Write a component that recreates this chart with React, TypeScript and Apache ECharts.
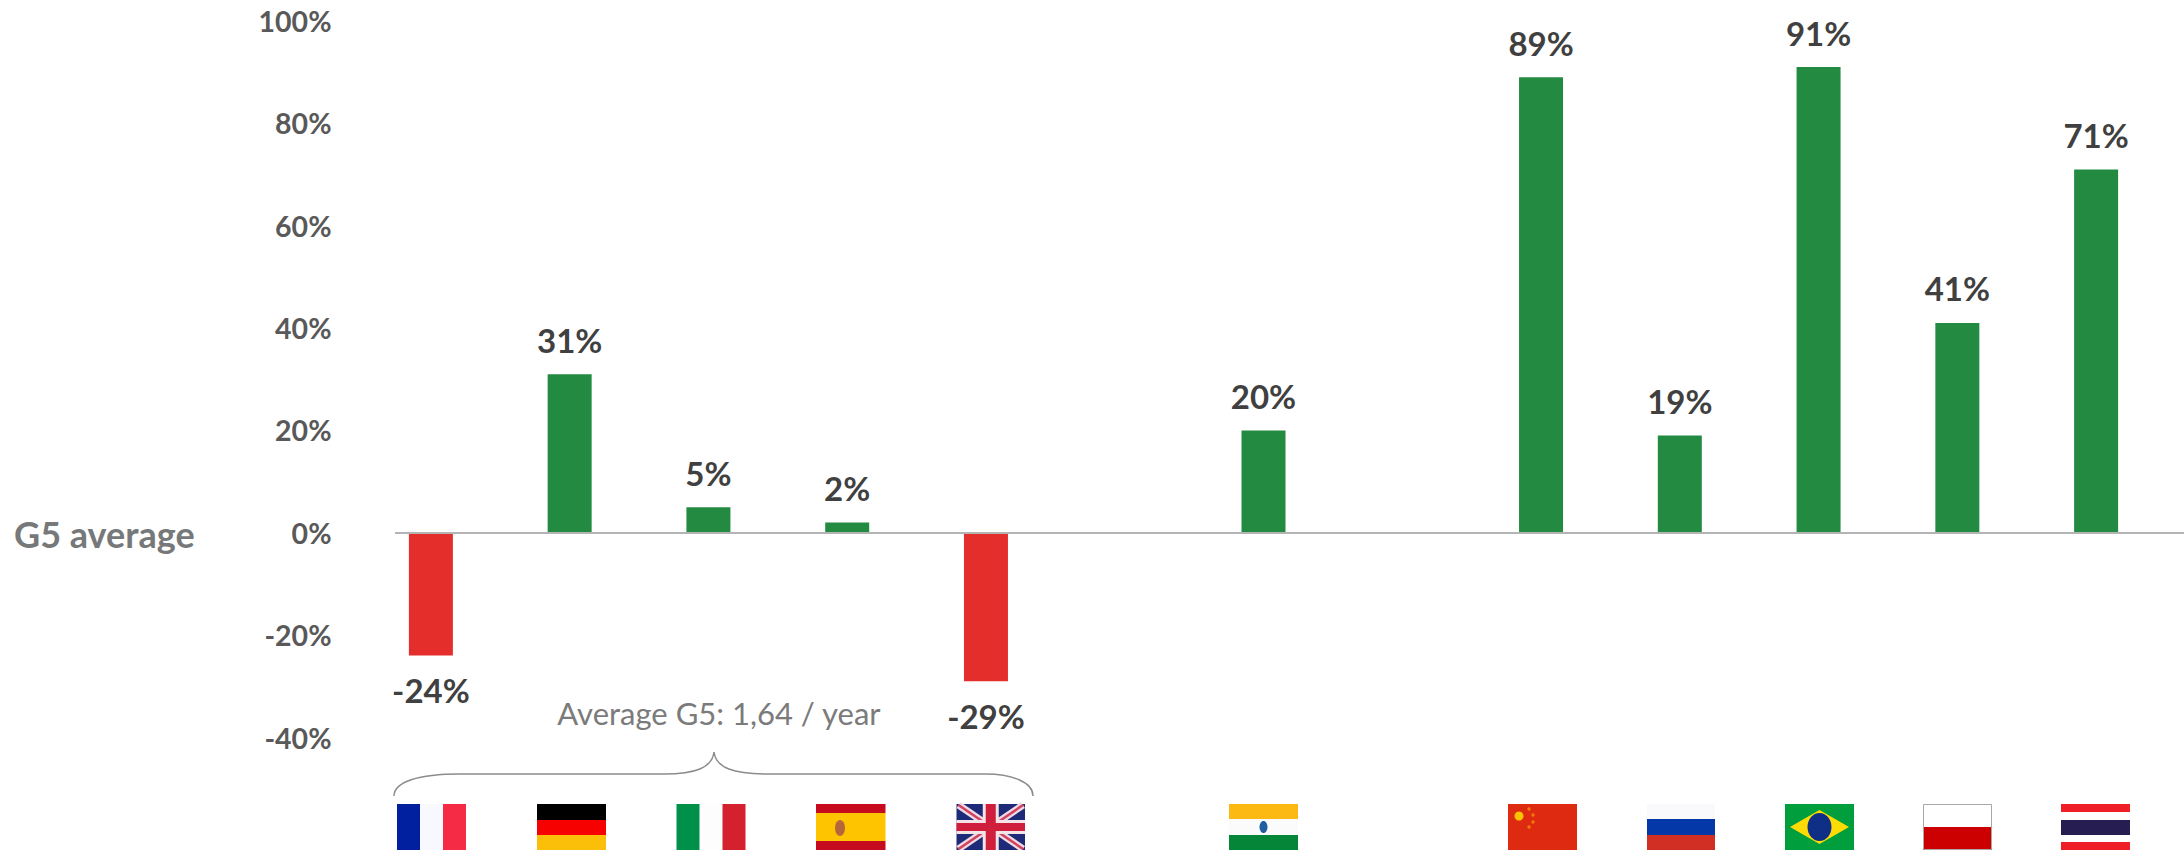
import React, { useEffect, useRef } from "react";
import * as echarts from "echarts";

const categories = ["France", "Germany", "Italy", "Spain", "UK", "gap-1", "India", "gap-2", "China", "Russia", "Brazil", "Poland", "Thailand"];
const growth = [-24, 31, 5, 2, -29, null, 20, null, 89, 19, 91, 41, 71];
const yTicks = [-40, -20, 0, 20, 40, 60, 80, 100];
const sideLabel = "G5 average";
const averageNote = "Average G5: 1,64 / year";

const FONT = "Lato, 'Open Sans', sans-serif";
const GREEN = "#238b41";
const RED = "#e32e2c";

echarts.graphic.registerShape(
  "g5brace",
  echarts.graphic.extendPath(
    "M394 796 C394 782 418 774 460 774 L664 774 C695 774 712 768 714 752 C716 768 733 774 770 774 L985 774 C1012 774 1033 782 1033 796",
    {}
  )
);

const FLAG_TOP = 804;
const FLAG_H = 46;

const r = (x: number, y: number, w: number, h: number, fill: string) => ({
  type: "rect", shape: { x, y, width: w, height: h }, style: { fill }, silent: true,
});
const hBands = (x: number, w: number, bands: [number, string][]) => {
  let y = FLAG_TOP;
  return bands.map(([h, c]) => { const e = r(x, y, w, h, c); y += h; return e; });
};
const vBands = (x: number, cols: string[], w: number) =>
  cols.map((c, i) => r(x + (i * w) / 3, FLAG_TOP, w / 3 + (i < 2 ? 0.5 : 0), FLAG_H, c));
const poly = (points: number[][], fill: string) => ({
  type: "polygon", shape: { points }, style: { fill }, silent: true,
});
const dot = (cx: number, cy: number, rad: number, fill: string) => ({
  type: "circle", shape: { cx, cy, r: rad }, style: { fill }, silent: true,
});
const bar = (x1: number, y1: number, x2: number, y2: number, stroke: string, lineWidth: number) => ({
  type: "line", shape: { x1, y1, x2, y2 }, style: { stroke, lineWidth }, silent: true,
});

function flags() {
  const T = FLAG_TOP;
  const out: any[] = [];
  out.push(...vBands(397, ["#0020a0", "#f8f8ff", "#f52a45"], 69));
  out.push(...hBands(537, 69, [[16, "#000000"], [15, "#f60000"], [15, "#fbbf0a"]]));
  out.push(...vBands(676.5, ["#00904a", "#fcfdfc", "#d4212e"], 69));
  out.push(...hBands(816, 69.5, [[9, "#c60b1e"], [28, "#fec400"], [9, "#c60b1e"]]));
  out.push({ type: "ellipse", shape: { cx: 840, cy: T + 24, rx: 5, ry: 8 }, style: { fill: "#b5673a" }, silent: true });
  // UK
  const ux = 956.5, uw = 68.5, B = T + FLAG_H;
  out.push(r(ux, T, uw, FLAG_H, "#1d2a78"));
  out.push(bar(ux + 2, T + 1, ux + uw - 2, B - 1, "#efd9e2", 7));
  out.push(bar(ux + uw - 2, T + 1, ux + 2, B - 1, "#efd9e2", 7));
  out.push(bar(ux + 2, T + 1, ux + uw - 2, B - 1, "#d2415f", 2.5));
  out.push(bar(ux + uw - 2, T + 1, ux + 2, B - 1, "#d2415f", 2.5));
  out.push(r(ux + uw / 2 - 8, T, 16, FLAG_H, "#f3e4e8"));
  out.push(r(ux, T + 16, uw, 14, "#f3e4e8"));
  out.push(r(ux + uw / 2 - 5, T, 10, FLAG_H, "#cf1f3c"));
  out.push(r(ux, T + 19, uw, 8, "#cf1f3c"));
  // India
  out.push(...hBands(1229, 69, [[15, "#fdb913"], [16, "#fbfbfb"], [15, "#058538"]]));
  out.push({ type: "ellipse", shape: { cx: 1263.5, cy: T + 23, rx: 4, ry: 6 }, style: { fill: "#1f5fa0" }, silent: true });
  // China
  out.push(r(1508, T, 69, FLAG_H, "#de2a10"));
  out.push(dot(1519, T + 12, 4.5, "#f7c300"));
  [[1529, T + 5], [1533, T + 11], [1533, T + 18], [1529, T + 23]].forEach(([x, y]) => out.push(dot(x, y, 1.7, "#ec7a0a")));
  // Russia
  out.push(...hBands(1647, 68, [[15, "#fafafd"], [16, "#0437a8"], [15, "#d22f24"]]));
  // Brazil
  const bx = 1785, bw = 69, bc = bx + bw / 2, my = T + 23;
  out.push(r(bx, T, bw, FLAG_H, "#009e3d"));
  out.push(poly([[bc, T + 6], [bx + 64, my], [bc, B - 6], [bx + 5, my]], "#fcdc04"));
  out.push({ type: "ellipse", shape: { cx: bc, cy: my, rx: 12, ry: 14 }, style: { fill: "#0f2f86" }, silent: true });
  // Poland
  out.push(r(1923, T, 69, 24, "#ffffff"));
  out.push(r(1923, T + 23, 69, 23, "#cc0000"));
  out.push({ type: "rect", shape: { x: 1923.5, y: T + 0.5, width: 68, height: 45 }, style: { fill: "none", stroke: "#a8a8a8", lineWidth: 1 }, silent: true });
  // Thailand
  out.push(...hBands(2061, 69, [[8, "#f01e28"], [8, "#ffffff"], [15, "#261d52"], [7, "#ffffff"], [8, "#f01e28"]]));
  return out;
}

export default function App() {
  const ref = useRef<HTMLDivElement>(null);
  useEffect(() => {
    const chart = echarts.init(ref.current!, null, { renderer: "svg" });
    chart.setOption({
      animation: false,
      backgroundColor: "#ffffff",
      grid: { left: 361.5, right: 18.5, top: 21, bottom: 112.5 },
      xAxis: {
        type: "category",
        data: categories,
        axisLine: { show: false },
        axisTick: { show: false },
        axisLabel: { show: false },
      },
      yAxis: {
        type: "value",
        min: yTicks[0],
        max: yTicks[yTicks.length - 1],
        interval: 20,
        splitLine: { show: false },
        axisLine: { show: false },
        axisTick: { show: false },
        axisLabel: {
          margin: 30,
          formatter: "{value}%",
          color: "#595959",
          fontFamily: FONT,
          fontWeight: "bold",
          fontSize: 28.5,
        },
      },
      series: [
        {
          type: "bar",
          barWidth: 44,
          data: growth.map((v) =>
            v === null
              ? null
              : {
                  value: v,
                  itemStyle: { color: v < 0 ? RED : GREEN },
                  label: { position: v < 0 ? "bottom" : "top", distance: v < 0 ? 18 : 18 },
                }
          ),
          label: {
            show: true,
            formatter: "{c}%",
            color: "#404040",
            fontFamily: FONT,
            fontWeight: "bold",
            fontSize: 33,
          },
          markLine: {
            silent: true,
            symbol: "none",
            label: { show: false },
            lineStyle: { color: "#b4b4b4", width: 2, type: "solid" },
            data: [[{ x: 395, yAxis: 0 }, { x: 2184, yAxis: 0 }]],
          },
        },
      ],
      graphic: [
        {
          type: "text",
          x: 14,
          y: 534,
          style: {
            text: sideLabel,
            fill: "#76787a",
            font: `bold 36px ${FONT}`,
            textVerticalAlign: "middle",
          },
        },
        {
          type: "text",
          x: 719,
          y: 713,
          style: {
            text: averageNote,
            fill: "#7b7b7b",
            font: `400 31px ${FONT}`,
            textAlign: "center",
            textVerticalAlign: "middle",
          },
        },
        {
          type: "g5brace",
          style: { fill: "none", stroke: "#8c8c8c", lineWidth: 1.5 },
          silent: true,
        },
        { type: "group", silent: true, children: flags() },
      ],
    });
    return () => chart.dispose();
  }, []);
  return <div ref={ref} style={{ position: "fixed", left: 0, top: 0, width: 2184, height: 850 }} />;
}
